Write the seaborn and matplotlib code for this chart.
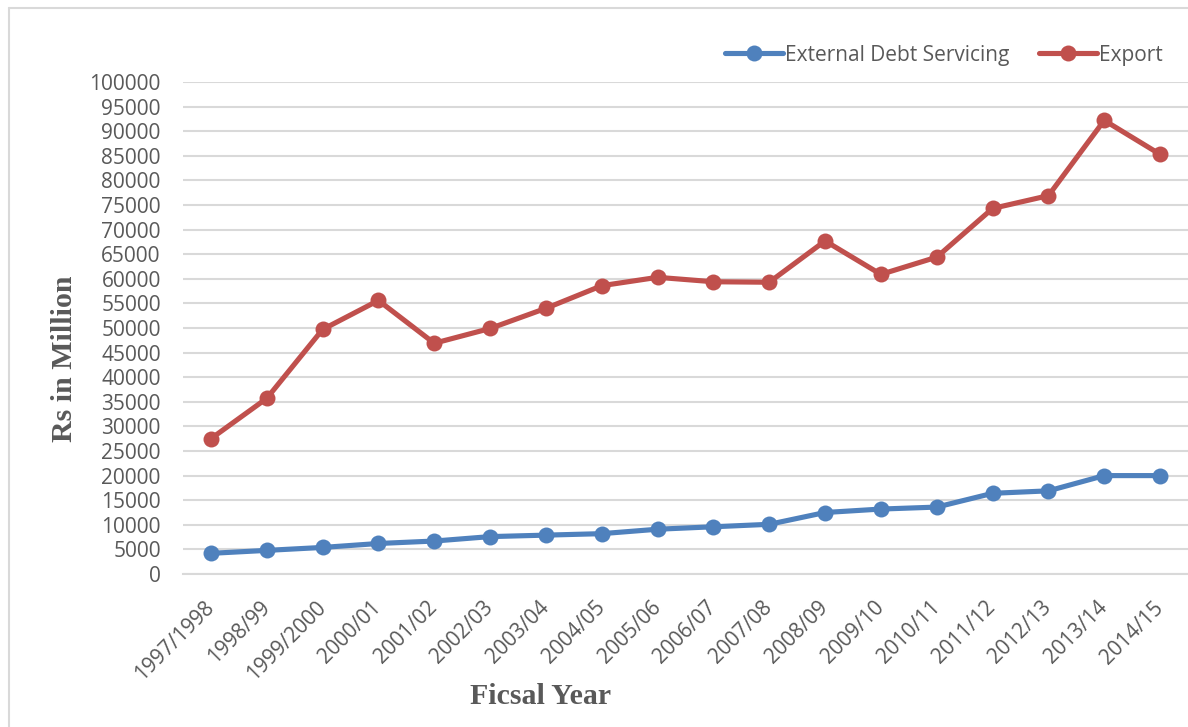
import matplotlib
matplotlib.use("Agg")
import matplotlib.pyplot as plt
from matplotlib.lines import Line2D
import seaborn as sns
import pandas as pd

# data (Rs in million)
years = ['1997/1998', '1998/99', '1999/2000', '2000/01', '2001/02', '2002/03',
         '2003/04', '2004/05', '2005/06', '2006/07', '2007/08', '2008/09',
         '2009/10', '2010/11', '2011/12', '2012/13', '2013/14', '2014/15']
debt_servicing = [4200, 4800, 5400, 6200, 6700, 7600, 7900, 8200, 9100, 9600,
                  10100, 12500, 13200, 13600, 16400, 16900, 20000, 20000]
export = [27500, 35700, 49700, 55600, 46900, 49900, 54000, 58600, 60300, 59400,
          59300, 67700, 60900, 64400, 74300, 76900, 92200, 85300]

blue = '#4F81BD'
red = '#C0504D'
grey_txt = '#595959'

df = pd.DataFrame({'year': years, 'debt': debt_servicing, 'export': export})

sns.set_style('white')
plt.rcParams['font.family'] = ['Open Sans', 'DejaVu Sans']

fig = plt.figure(figsize=(11.88, 7.27), dpi=100)
ax = fig.add_axes([183 / 1188, 1 - 574 / 727, 1 - 183 / 1188, (574 - 82) / 727])

sns.lineplot(data=df, x='year', y='debt', sort=False, color=blue, lw=3.7,
             marker='o', markersize=11.5, markeredgewidth=0, ax=ax)
sns.lineplot(data=df, x='year', y='export', sort=False, color=red, lw=3.7,
             marker='o', markersize=11.5, markeredgewidth=0, ax=ax)

ax.set_xlim(-0.5, len(years) - 0.5)
ax.set_ylim(0, 100000)
ax.set_yticks(range(0, 100001, 5000))
ax.grid(axis='y', color='#D9D9D9', lw=1.5)
ax.set_axisbelow(True)
for s in ['top', 'right', 'left']:
    ax.spines[s].set_visible(False)
ax.spines['bottom'].set_color('#D9D9D9')
ax.spines['bottom'].set_linewidth(1.5)

ax.tick_params(axis='y', length=0, pad=16, labelsize=15, labelcolor=grey_txt)
ax.tick_params(axis='x', length=0, pad=22, labelsize=15, labelcolor=grey_txt)
ax.set_xticks(range(len(years)))
ax.set_xticklabels(years, rotation=45, ha='right', va='center', rotation_mode='anchor')
ax.set_xlabel('')
ax.set_ylabel('')

fig.text(541 / 1188, 1 - 697 / 727, 'Ficsal Year', family='Liberation Serif',
         fontweight='bold', fontsize=21.5, color=grey_txt, ha='center', va='center')
fig.text(65 / 1188, 1 - 359 / 727, 'Rs in Million', family='Liberation Serif',
         fontweight='bold', fontsize=21.5, color=grey_txt, ha='center', va='center',
         rotation=90)

handles = [Line2D([], [], color=blue, lw=3.7, marker='o', markersize=11.5, markeredgewidth=0),
           Line2D([], [], color=red, lw=3.7, marker='o', markersize=11.5, markeredgewidth=0)]
fig.legend(handles, ['External Debt Servicing', 'Export'], loc='center right',
           bbox_to_anchor=(1163 / 1188, 1 - 55 / 727), ncol=2, frameon=False,
           fontsize=15, labelcolor=grey_txt, handlelength=2.8, handletextpad=0.1,
           columnspacing=1.4, borderaxespad=0, borderpad=0)

# light frame of the chart area (left and top edges visible)
fig.add_artist(Line2D([9 / 1188, 9 / 1188], [0, 1 - 7.5 / 727], color='#D9D9D9', lw=1.5))
fig.add_artist(Line2D([9 / 1188, 1], [1 - 7.5 / 727, 1 - 7.5 / 727], color='#D9D9D9', lw=1.5))

fig.savefig('out.png', dpi=100)
